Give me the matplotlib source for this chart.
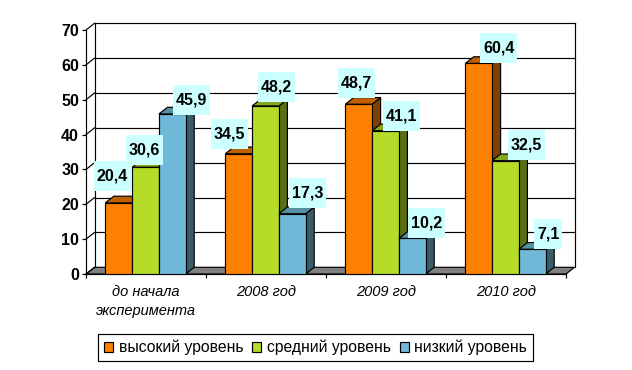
import matplotlib
matplotlib.use("Agg")
import matplotlib.pyplot as plt
from matplotlib.patches import Polygon, Rectangle, Patch

plt.rcParams['font.family'] = ['Liberation Sans', 'DejaVu Sans']

categories = ["до начала\nэксперимента", "2008 год", "2009 год", "2010 год"]
series_names = ["высокий уровень", "средний уровень", "низкий уровень"]
high = [20.4, 34.5, 48.7, 60.4]
mid = [30.6, 48.2, 41.1, 32.5]
low = [45.9, 17.3, 10.2, 7.1]
y_ticks = [0, 10, 20, 30, 40, 50, 60, 70]

# styles: (front, top, side)
colors = [("#FF8000", "#C06000", "#804000"),
          ("#B4DC28", "#87A51E", "#5A6E14"),
          ("#70B8D8", "#5490A2", "#385C6C")]
# label box centre offsets from the bar's top centre, px (right, up)
label_offsets = [
    [(-6.5, 27), (-9, 19.7), (-2, 21), (20, 15)],
    [(-1.5, 17), (11, 19), (16, 15), (21, 16)],
    [(19, 14), (15, 21), (14, 15), (16, 15)],
]

W, H = 632, 370
fig = plt.figure(figsize=(W / 100, H / 100), dpi=100, facecolor="white")
ax = fig.add_axes([86 / W, (H - 274) / H, 480 / W, 244 / H])
ax.set_xlim(0, 4)
ax.set_ylim(0, 70)
ax.patch.set_visible(False)

PX = 4 / 480        # data units per px, x
PY = 70 / 244       # data units per px, y
DX, DY = 8.5 * PX, 6.7 * PY
BW = 26.8 * PX
X0 = 19.3 * PX
LW = 0.85

# walls and floor
ax.add_patch(Polygon([(0, 0), (4, 0), (4 + DX, DY), (DX, DY)], closed=True,
                     fc="#808080", ec="black", lw=LW, zorder=1, clip_on=False))
for v in y_ticks[1:]:
    ax.plot([DX, 4 + DX], [v + DY, v + DY], color="black", lw=LW, zorder=1, clip_on=False)
for v in y_ticks:
    ax.plot([0, DX], [v, v + DY], color="black", lw=LW, zorder=1, clip_on=False)
ax.plot([DX, DX], [DY, 70 + DY], color="black", lw=LW, zorder=1, clip_on=False)
ax.plot([4 + DX, 4 + DX], [DY, 70 + DY], color="black", lw=LW, zorder=1, clip_on=False)

# bars, left to right so that each bar covers its left neighbour's side
z = 3.0
for s, vals in enumerate([high, mid, low]):
    front, top, side = colors[s]
    for c, v in enumerate(vals):
        x = c + X0 + s * BW
        ax.add_patch(Polygon([(x + BW, 0), (x + BW + DX, DY), (x + BW + DX, v + DY), (x + BW, v)],
                             closed=True, fc=side, ec="black", lw=LW, zorder=z, clip_on=False))
        ax.add_patch(Polygon([(x, v), (x + BW, v), (x + BW + DX, v + DY), (x + DX, v + DY)],
                             closed=True, fc=top, ec="black", lw=LW, zorder=z, clip_on=False))
        ax.bar(x, v, BW, align="edge", color=front, edgecolor="black", lw=LW, zorder=z + 0.01)
        z += 0.02

# value labels
for s, vals in enumerate([high, mid, low]):
    for c, v in enumerate(vals):
        text = f"{v:.1f}".replace(".", ",")
        ox, oy = label_offsets[s][c]
        xc = c + X0 + (s + 0.5) * BW + ox * PX
        yc = v + oy * PY
        w = (37 if len(text) == 4 else 28) * PX
        h = 30 * PY
        ax.add_patch(Rectangle((xc - w / 2, yc - h / 2), w, h, fc="#CCFFFF", ec="none",
                               zorder=10, clip_on=False))
        ax.text(xc, yc, text, ha="center", va="center", fontsize=11.5, fontweight="bold",
                color="black", zorder=11)

# axes
for name in ("top", "right"):
    ax.spines[name].set_visible(False)
for name in ("left", "bottom"):
    ax.spines[name].set_linewidth(LW)
    ax.spines[name].set_zorder(2)
ax.set_yticks(y_ticks)
ax.set_yticklabels([str(v) for v in y_ticks], fontsize=11.5, fontweight="bold")
ax.tick_params(axis="y", length=3.0, width=LW, pad=2)
ax.set_xticks(range(5))
ax.set_xticklabels([])
ax.tick_params(axis="x", which="major", length=3.0, width=LW)
ax.set_xticks([0.5, 1.5, 2.5, 3.5], minor=True)
ax.set_xticklabels(categories, minor=True, fontsize=10.5, fontstyle="italic", linespacing=1.45)
ax.tick_params(axis="x", which="minor", length=0, pad=8)

# legend
handles = [Patch(fc=colors[i][0], ec="black", lw=LW) for i in range(3)]
leg = fig.legend(handles, series_names, ncol=3, loc="center",
                 bbox_to_anchor=(315.5 / W, (H - 347.5) / H), fontsize=11.3,
                 frameon=True, fancybox=False, edgecolor="black", framealpha=1,
                 handlelength=0.6, handleheight=0.6, handletextpad=0.33,
                 columnspacing=0.57, borderpad=0.38, borderaxespad=0)
leg.get_frame().set_linewidth(LW)

fig.savefig("out.png", dpi=100, facecolor="white")
